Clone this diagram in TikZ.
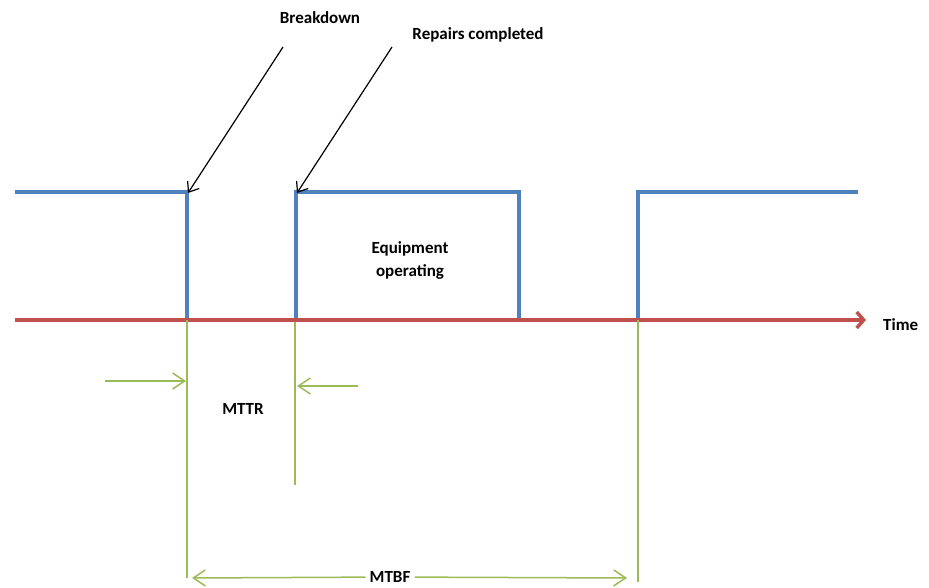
\documentclass[tikz,border=0pt]{standalone}
\usepackage{fontspec}
\setmainfont{Carlito}
\usetikzlibrary{arrows.meta}
\begin{document}
\begin{tikzpicture}[x=1pt,y=-1pt,
        signal/.style={line width=3.5pt,color={rgb,255:red,79;green,129;blue,189}},
        axis/.style={line width=3.5pt,color={rgb,255:red,192;green,80;blue,77}},
        dim/.style={line width=1.5pt,color={rgb,255:red,155;green,187;blue,89}},
        dimarrow/.style={dim,-{Straight Barb[length=12pt,width=16pt]}},
        pointer/.style={line width=1.2pt,black,-{Straight Barb[length=9pt,width=14pt]}},
        label/.style={font=\bfseries\fontsize{17}{23}\selectfont,inner sep=1pt}]
        \useasboundingbox (0,0) rectangle (929,588);

        % time axis and signal corners
        \coordinate (s0) at (15,192);
        \coordinate (b1) at (187,192);
        \coordinate (b2) at (187,320);
        \coordinate (r1) at (296,320);
        \coordinate (r2) at (296,192);
        \coordinate (e1) at (519,192);
        \coordinate (e2) at (519,320);
        \coordinate (n1) at (638,320);
        \coordinate (n2) at (638,192);
        \coordinate (s1) at (858,192);
        \coordinate (t0) at (15,320);
        \coordinate (t1) at (866,320);

        \draw [signal] (s0) -- (b1) -- (b2) ;
        \draw [signal] (r1) -- (r2) -- (e1) -- (e2) ;
        \draw [signal] (n1) -- (n2) -- (s1) ;
        \draw [axis,-{Straight Barb[length=7pt,width=16pt]}] (t0) -- (t1) ;
        \node[label,anchor=west](time) at (882,325) {Time};

        \node[label,align=center](equip) at (410,260) {Equipment\\operating};

        % pointers from above
        \node[label](brk) at (320,18) {Breakdown};
        \node[label](rep) at (478,35) {Repairs completed};
        \coordinate (bt) at (283,47);
        \coordinate (rt) at (392,47);
        \draw [pointer] (bt) -- ([xshift=1pt,yshift=-1pt]b1) ;
        \draw [pointer] (rt) -- ([xshift=1pt,yshift=-1pt]r2) ;

        % dimension lines
        \coordinate (d1) at (187,578);
        \coordinate (d2) at (295,485);
        \coordinate (d3) at (638,582);
        \draw [dim] (b2) -- (d1) ;
        \draw [dim] (295,322) -- (d2) ;
        \draw [dim] (n1) -- (d3) ;

        \coordinate (m1) at (105,381);
        \coordinate (m2) at (358,386);
        \draw [dimarrow] (m1) -- (186,381) ;
        \draw [dimarrow] (m2) -- (297,386) ;
        \node[label](mttr) at (243,409) {MTTR};

        \node[label,fill=white,inner xsep=4pt](mtbf) at (390,577) {MTBF};
        \draw [dimarrow] (mtbf) -- (627,578) ;
        \draw [dimarrow] (mtbf) -- (192,578) ;
\end{tikzpicture}
\end{document}
